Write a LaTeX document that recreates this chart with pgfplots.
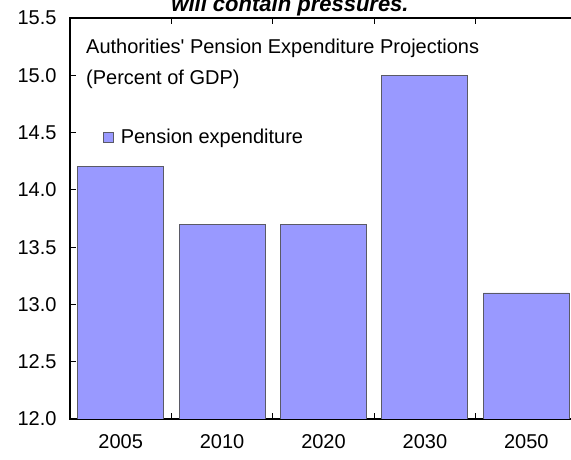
\documentclass[border=0pt]{standalone}
\usepackage{pgfplots}
\pgfplotsset{compat=1.18}
\usepackage{fontspec}
\setmainfont{Liberation Sans}
\definecolor{barblue}{HTML}{9999FF}
\definecolor{baredge}{HTML}{5A5A66}
\begin{document}
\begin{tikzpicture}
\useasboundingbox (0,0) rectangle (571pt,460pt);
\clip (0,0) rectangle (571pt,460pt);
\begin{axis}[
  at={(70pt,41pt)}, anchor=south west,
  scale only axis, width=507pt, height=401pt,
  xmin=-0.5, xmax=4.5, ymin=12, ymax=15.5,
  axis line style={line width=1.2pt, black},
  xtick={0,1,2,3,4},
  xticklabels={2005,2010,2020,2030,2050},
  minor xtick={0.5,1.5,2.5,3.5},
  ytick={12,12.5,13,13.5,14,14.5,15,15.5},
  tick align=inside,
  major x tick style={draw=none},
  minor tick length=6pt,
  major tick length=6pt,
  tick style={black, line width=0.9pt},
  every tick label/.append style={font=\fontsize{20}{24}\selectfont},
  /pgf/number format/assume math mode=true,
  yticklabel style={/pgf/number format/fixed, /pgf/number format/precision=1, /pgf/number format/fixed zerofill, xshift=-10pt},
  xticklabel style={yshift=-12pt},
  legend style={at={(0.065,0.703)}, anchor=west, draw=none, fill=none, inner sep=0pt,
    font=\fontsize{20}{24}\selectfont, legend cell align=left},
  legend image code/.code={\draw[fill=barblue, draw=baredge, line width=0.6pt] (0pt,-5pt) rectangle (10pt,5pt);},
]
\addplot[ybar, bar width=86pt, fill=barblue, draw=baredge, line width=0.9pt]
  coordinates {(0,14.2) (1,13.7) (2,13.7) (3,15.0) (4,13.1)};
\addlegendentry{\hspace{5pt}Pension expenditure}
\end{axis}
\node[anchor=base west, font=\fontsize{20}{24}\selectfont, inner sep=0pt] at (86pt,460pt-54pt) {Authorities\textquotesingle\ Pension Expenditure Projections};
\node[anchor=base west, font=\fontsize{20}{24}\selectfont, inner sep=0pt] at (86pt,460pt-85pt) {(Percent of GDP)};
\node[anchor=base, font=\fontsize{22}{26}\selectfont\bfseries\itshape, inner sep=0pt] at (290pt,460pt-12pt) {will contain pressures.};
\end{tikzpicture}
\end{document}
